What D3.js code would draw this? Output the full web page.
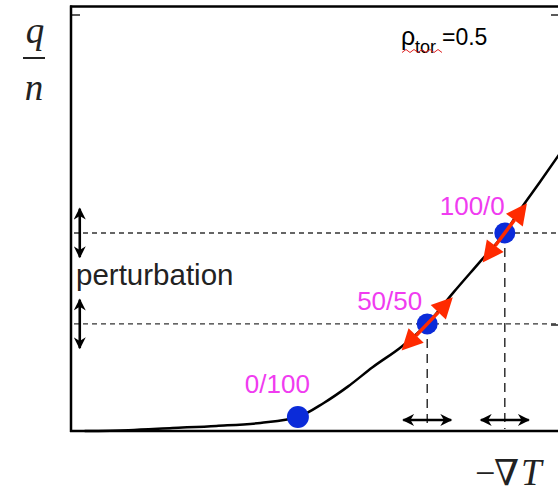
<!DOCTYPE html>
<html>
<head>
<meta charset="utf-8">
<script src="https://cdn.jsdelivr.net/npm/d3@7"></script>
<style>
  body { margin: 0; background: #fff; }
  svg { display: block; }
  .lbl { font-family: "Liberation Sans", Arial, sans-serif; }
</style>
</head>
<body>
<div id="chart"></div>
<script>
// curve q/n versus -gradT (arbitrary units, 0..100 on both axes)
const gradT = [3, 12, 21, 30, 39, 46.7, 52, 57, 62, 68, 73.2, 78.5, 84, 89.1, 92.2, 96.3, 100.5];
const qn    = [0, 0.2, 0.7, 1.2, 1.9, 3.3, 6.6, 10.5, 15, 19.9, 25.2, 32.5, 39.8, 46.6, 52, 58.6, 65.5];

// operating points (mix ratio labels)
const mixLabels = ["0/100", "50/50", "100/0"];
const mixGradT  = [46.7, 73.2, 89.1];
const mixQn     = [3.3, 25.2, 46.6];
const perturbed = [false, true, true];

// perturbation half widths (data units)
const pertX = 4.9;
const pertY = 5.7;

const W = 558, H = 493;
const x = d3.scaleLinear().domain([0, 100]).range([70, 558]);
const y = d3.scaleLinear().domain([0, 100]).range([431, 6]);

const svg = d3.select("#chart").append("svg")
    .attr("width", W).attr("height", H);

const defs = svg.append("defs");
defs.append("marker")
    .attr("id", "head")
    .attr("viewBox", "0 -5 10 10")
    .attr("refX", 9).attr("refY", 0)
    .attr("markerUnits", "userSpaceOnUse")
    .attr("markerWidth", 15).attr("markerHeight", 12)
    .attr("orient", "auto-start-reverse")
  .append("path")
    .attr("d", "M0,-5L10,0L0,5L3,0Z")
    .attr("fill", "#000");

// ---- frame
const frame = svg.append("g").attr("stroke", "#000").attr("stroke-width", 2.5);
frame.append("line").attr("x1", 70).attr("x2", 558).attr("y1", 6.5).attr("y2", 6.5);
frame.append("line").attr("x1", 71).attr("x2", 71).attr("y1", 5.5).attr("y2", 432);
frame.append("line").attr("x1", 70).attr("x2", 558).attr("y1", 431).attr("y2", 431);
const ticks = svg.append("g").attr("stroke", "#000").attr("stroke-width", 1.3);
ticks.append("line").attr("x1", 71).attr("x2", 80).attr("y1", 15).attr("y2", 15);
ticks.append("line").attr("x1", 551).attr("x2", 558).attr("y1", 15).attr("y2", 15);
ticks.append("line").attr("x1", 551).attr("x2", 558).attr("y1", 325).attr("y2", 325);

const pts = mixLabels.map((l, i) => ({label: l, gx: mixGradT[i], q: mixQn[i], p: perturbed[i]}));
const pp = pts.filter(d => d.p);

// ---- dashed guide lines
svg.append("g").selectAll("line.h").data(pp).join("line")
    .attr("x1", 74).attr("x2", 558)
    .attr("y1", d => y(d.q)).attr("y2", d => y(d.q))
    .attr("stroke", "#333").attr("stroke-width", 1.4)
    .attr("stroke-dasharray", "5,4");
svg.append("g").selectAll("line.v").data(pp).join("line")
    .attr("x1", d => x(d.gx)).attr("x2", d => x(d.gx))
    .attr("y1", d => y(d.q)).attr("y2", y(0.5))
    .attr("stroke", "#222").attr("stroke-width", 1.4)
    .attr("stroke-dasharray", "9,6");

// ---- curve
const line = d3.line()
    .x((d, i) => x(gradT[i]))
    .y(d => y(d))
    .curve(d3.curveMonotoneX);
svg.append("path")
    .datum(qn)
    .attr("d", line)
    .attr("fill", "none")
    .attr("stroke", "#000")
    .attr("stroke-width", 2.5);

// ---- perturbation double arrows
const dbl = svg.append("g").attr("stroke", "#000").attr("stroke-width", 2.6)
    .attr("marker-start", "url(#head)").attr("marker-end", "url(#head)");
dbl.selectAll("line.ly").data(pp).join("line")
    .attr("x1", x(2)).attr("x2", x(2))
    .attr("y1", d => y(d.q + pertY)).attr("y2", d => y(d.q - pertY));
dbl.selectAll("line.lx").data(pp).join("line")
    .attr("x1", d => x(d.gx - pertX)).attr("x2", d => x(d.gx + pertX))
    .attr("y1", y(2.6)).attr("y2", y(2.6));

// ---- blue operating points
svg.append("g").selectAll("circle").data(pts).join("circle")
    .attr("cx", d => x(d.gx)).attr("cy", d => y(d.q))
    .attr("r", d => d.p ? 10.5 : 11)
    .attr("fill", "#0b2bd9");

// ---- red tangent arrows
const interp = d3.scaleLinear().domain(gradT).range(qn);
const tipLen = 37, baseLen = 16, halfW = 10.5;
const red = svg.append("g");
pp.forEach(d => {
  const cx = x(d.gx), cy = y(d.q);
  const ax = x(d.gx - 3), ay = y(interp(d.gx - 3));
  const bx = x(d.gx + 3), by = y(interp(d.gx + 3));
  const len = Math.hypot(bx - ax, by - ay);
  const ux = (bx - ax) / len, uy = (by - ay) / len;
  red.append("line")
      .attr("x1", cx - ux * baseLen).attr("y1", cy - uy * baseLen)
      .attr("x2", cx + ux * baseLen).attr("y2", cy + uy * baseLen)
      .attr("stroke", "#ff2a00").attr("stroke-width", 3.5);
  [1, -1].forEach(s => {
    const tx = cx + s * ux * tipLen, ty = cy + s * uy * tipLen;
    const bxm = cx + s * ux * baseLen, bym = cy + s * uy * baseLen;
    const p = [[tx, ty],
               [bxm - uy * halfW, bym + ux * halfW],
               [bxm + uy * halfW, bym - ux * halfW]];
    red.append("path")
        .attr("d", "M" + p.join("L") + "Z")
        .attr("fill", "#ff2a00");
  });
});

// ---- point labels
const labelOff = [[12, -24], [-5, -14], [0, -18]];
svg.append("g").selectAll("text").data(pts).join("text")
    .attr("class", "lbl")
    .attr("x", (d, i) => x(d.gx) + labelOff[i][0])
    .attr("y", (d, i) => y(d.q) + labelOff[i][1])
    .attr("text-anchor", "end")
    .attr("font-size", 26)
    .attr("fill", "#f03cf0")
    .text(d => d.label);

svg.append("text")
    .attr("class", "lbl")
    .attr("x", 76).attr("y", 285)
    .attr("font-size", 29.5)
    .attr("fill", "#222")
    .text("perturbation");

// ---- rho_tor annotation
svg.append("text").attr("class", "lbl").attr("x", 401).attr("y", 45)
    .attr("font-size", 25).text("ρ");
svg.append("text").attr("class", "lbl").attr("x", 415).attr("y", 53)
    .attr("font-size", 18).text("tor");
svg.append("text").attr("class", "lbl").attr("x", 442).attr("y", 45)
    .attr("font-size", 23).text("=0.5");
const wave = d3.range(0, 11).map(i => [402 + i * 4, 51 + (i % 2 ? -1.5 : 1.5)]);
svg.append("path")
    .attr("d", d3.line()(wave))
    .attr("fill", "none").attr("stroke", "#e02020").attr("stroke-width", 1);

// ---- axis labels
const serif = "'Liberation Serif', 'DejaVu Serif', serif";
svg.append("text").attr("x", 35).attr("y", 43)
    .attr("text-anchor", "middle").attr("font-family", serif)
    .attr("font-style", "italic").attr("font-size", 37).attr("fill", "#222")
    .text("q");
svg.append("line").attr("x1", 23).attr("x2", 45).attr("y1", 58).attr("y2", 58)
    .attr("stroke", "#222").attr("stroke-width", 2);
svg.append("text").attr("x", 34).attr("y", 100)
    .attr("text-anchor", "middle").attr("font-family", serif)
    .attr("font-style", "italic").attr("font-size", 37).attr("fill", "#222")
    .text("n");

svg.append("text").attr("x", 475).attr("y", 485)
    .attr("font-family", serif).attr("font-size", 36).attr("fill", "#222")
    .text("−");
svg.append("text").attr("x", 494).attr("y", 485)
    .attr("font-family", "'DejaVu Serif', serif").attr("font-size", 36).attr("fill", "#222")
    .text("∇");
svg.append("text").attr("x", 521).attr("y", 485)
    .attr("font-family", serif).attr("font-style", "italic")
    .attr("font-size", 37).attr("fill", "#222")
    .text("T");
</script>
</body>
</html>
